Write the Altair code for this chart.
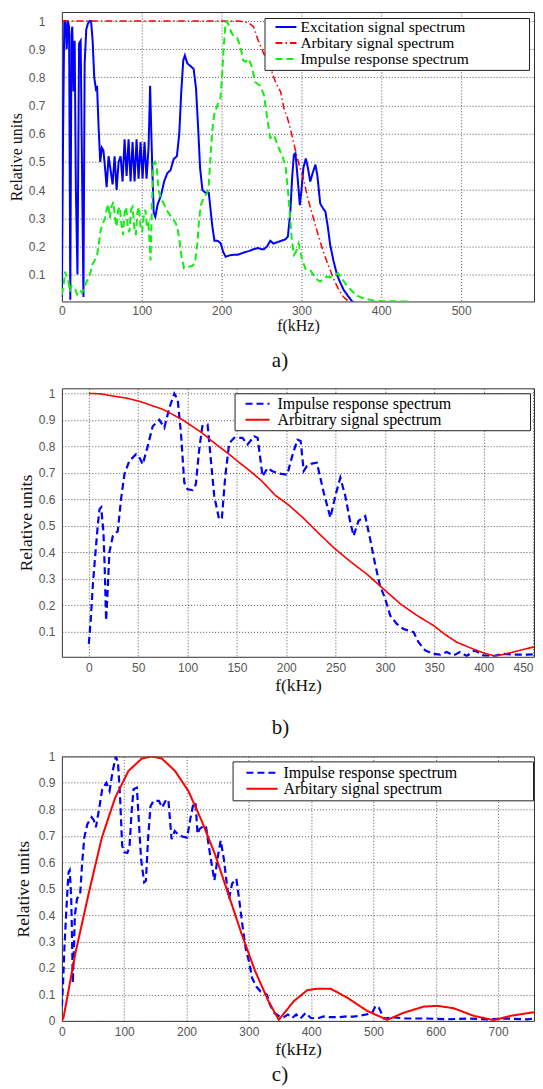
import altair as alt
import pandas as pd

# ---------------- data ----------------
A_EXCITATION = [
    (0, 0.02), (1.5, 0.6), (3, 1.0), (4.5, 1.0), (6, 0.9), (7.5, 1.0), (9, 0.98), (10.5, 0.01),
    (12, 0.95), (13, 0.98), (14.5, 0.75), (16, 0.93), (17.5, 0.4), (19.5, 0.1), (21.5, 0.92),
    (23.5, 0.93), (25.5, 0.4), (27, 0.02), (28.5, 0.85), (30.5, 0.97), (32.5, 0.99), (34.5, 1.0),
    (36.5, 1.0), (38.5, 0.93), (40.5, 0.8), (42.5, 0.76), (44, 0.77), (46, 0.62), (48, 0.5),
    (50, 0.55), (52, 0.54), (54, 0.48), (56, 0.41), (58.5, 0.52), (61, 0.47), (63.5, 0.42),
    (66, 0.52), (68.5, 0.4), (71, 0.5), (73.5, 0.52), (76, 0.43), (78.5, 0.58), (81, 0.45),
    (83.5, 0.58), (86, 0.43), (88.5, 0.57), (91, 0.43), (93.5, 0.58), (96, 0.44), (98.5, 0.57),
    (101, 0.44), (103.5, 0.57), (106, 0.44), (108.5, 0.55), (110.5, 0.77), (112, 0.6),
    (113.5, 0.45), (115, 0.32), (117, 0.305), (120, 0.35), (124, 0.38), (128, 0.43), (132, 0.46),
    (136, 0.47), (140, 0.51), (144, 0.52), (147, 0.6), (149.5, 0.75), (152, 0.86), (154, 0.878),
    (157, 0.85), (161, 0.84), (165, 0.83), (168, 0.76), (171, 0.6), (173, 0.48), (176, 0.40),
    (180, 0.39), (184, 0.39), (188, 0.28), (191, 0.22), (195, 0.22), (199, 0.21), (202, 0.18),
    (205, 0.163), (210, 0.168), (215, 0.17), (220, 0.17), (225, 0.175), (230, 0.18), (235, 0.184),
    (240, 0.19), (246, 0.194), (250, 0.19), (253, 0.19), (257, 0.2), (261, 0.22), (265, 0.21),
    (270, 0.215), (275, 0.22), (280, 0.225), (283, 0.235), (286, 0.32), (288.5, 0.45),
    (290.5, 0.525), (292.5, 0.53), (295, 0.45), (298, 0.346), (300, 0.4), (302.5, 0.48),
    (305.5, 0.512), (308, 0.48), (311, 0.43), (314, 0.46), (317.5, 0.49), (320, 0.45),
    (323.5, 0.352), (327, 0.335), (330, 0.323), (333, 0.27), (336, 0.205), (340, 0.15),
    (344.5, 0.1), (348, 0.075), (353, 0.045), (358, 0.025), (363, 0.006), (366, 0.0),
]
A_ARBITRARY = [
    (0, 1.0), (220, 1.0), (228, 0.998), (234, 0.993), (240, 0.98), (246, 0.93), (252, 0.89),
    (258, 0.85), (263, 0.82), (268, 0.78), (274, 0.748), (278, 0.69), (282, 0.66), (286, 0.62),
    (290, 0.57), (294, 0.524), (298, 0.48), (302.5, 0.44), (308, 0.37), (315, 0.30), (321, 0.24),
    (327.5, 0.18), (334, 0.13), (340, 0.086), (346, 0.05), (352.5, 0.021), (359, 0.004), (362, 0.0),
]
A_IMPULSE = [
    (0, 0.027), (2, 0.06), (4, 0.11), (6, 0.09), (8, 0.08), (10, 0.04), (12, 0.06), (14.5, 0.05),
    (17, 0.045), (19, 0.03), (21, 0.04), (23, 0.045), (25, 0.035), (27, 0.045), (29, 0.06),
    (31, 0.075), (33.5, 0.086), (36, 0.11), (38, 0.135), (41, 0.15), (44, 0.17), (46, 0.2),
    (48, 0.25), (50, 0.27), (52, 0.286), (54, 0.3), (56, 0.33), (58, 0.35), (60, 0.3), (62, 0.34),
    (64.5, 0.358), (66.5, 0.3), (68.5, 0.27), (70.5, 0.33), (72.5, 0.34), (74.5, 0.28),
    (76.5, 0.24), (78.5, 0.32), (80.5, 0.34), (82.5, 0.27), (84.5, 0.25), (86.5, 0.33),
    (88.5, 0.34), (90.5, 0.27), (92.5, 0.24), (94.5, 0.32), (96.5, 0.34), (98.5, 0.27),
    (100.5, 0.25), (102.5, 0.31), (104.5, 0.33), (106.5, 0.27), (108.5, 0.28), (110, 0.2),
    (111, 0.15), (112.5, 0.32), (114.5, 0.49), (116.5, 0.5), (118.5, 0.488), (121, 0.4),
    (124, 0.37), (127, 0.355), (131, 0.33), (134, 0.317), (138, 0.3), (141, 0.29), (144.5, 0.27),
    (147.5, 0.216), (150, 0.16), (153, 0.122), (156, 0.125), (159, 0.128), (163, 0.13),
    (166.5, 0.14), (169.5, 0.205), (172, 0.3), (174, 0.346), (178, 0.376), (182, 0.388),
    (184, 0.42), (186, 0.51), (188, 0.6), (190.5, 0.665), (194.5, 0.70), (198.5, 0.725),
    (200.5, 0.8), (202.5, 0.9), (205, 0.996), (207, 0.999), (210, 0.975), (213, 0.955),
    (216, 0.945), (219.5, 0.94), (223.5, 0.91), (227, 0.86), (230, 0.855), (234, 0.866),
    (238, 0.837), (242, 0.783), (248.5, 0.77), (253, 0.737), (257, 0.655), (261, 0.585),
    (265.5, 0.595), (271.5, 0.55), (276, 0.52), (280, 0.488), (284, 0.37), (288, 0.22),
    (290.5, 0.17), (293, 0.18), (296.5, 0.21), (300.5, 0.157), (305, 0.12), (311, 0.116),
    (317.5, 0.086), (323.5, 0.075), (328, 0.085), (332, 0.093), (336, 0.09), (340, 0.098),
    (346, 0.104), (351, 0.085), (356, 0.063), (362, 0.045), (368.5, 0.027), (375, 0.018),
    (381, 0.013), (388, 0.009), (394, 0.006), (410, 0.005), (435, 0.004),
]
BC_IMPULSE = [
    (0, 0.055), (2, 0.15), (4, 0.274), (6.7, 0.399), (9, 0.5), (10.8, 0.563), (12.5, 0.57),
    (14.8, 0.475), (16, 0.35), (17.5, 0.143), (19, 0.25), (20.8, 0.4), (24.3, 0.462),
    (29.3, 0.48), (32.6, 0.6), (36, 0.694), (41, 0.745), (47.8, 0.77), (51, 0.76), (54.6, 0.732),
    (59.6, 0.80), (64.7, 0.876), (71.4, 0.90), (76.5, 0.87), (81.5, 0.945), (86.6, 0.999),
    (90, 0.977), (93.3, 0.85), (96.7, 0.663), (100, 0.638), (105, 0.635), (108.4, 0.656),
    (111.8, 0.788), (115, 0.876), (120.3, 0.882), (123.6, 0.75), (127, 0.613), (132, 0.524),
    (134.8, 0.53), (138.2, 0.687), (142.2, 0.812), (147.3, 0.832), (155.7, 0.832),
    (160.8, 0.807), (167.6, 0.838), (171, 0.832), (176, 0.687), (181, 0.718), (186, 0.706),
    (193, 0.697), (201, 0.693), (206, 0.763), (211.3, 0.825), (214.6, 0.82), (217.7, 0.707),
    (221, 0.726), (226, 0.735), (231, 0.738), (238, 0.625), (244.7, 0.531), (249.7, 0.613),
    (254.8, 0.682), (259.8, 0.613), (264.9, 0.513), (268.2, 0.462), (273.2, 0.519), (280, 0.537),
    (285, 0.45), (290, 0.356), (295, 0.274), (300.3, 0.224), (305.4, 0.161), (312, 0.13),
    (318.8, 0.111), (329, 0.099), (334, 0.061), (340.8, 0.03), (349.2, 0.017), (356, 0.014),
    (362.6, 0.024), (369.4, 0.011), (376, 0.024), (382.8, 0.009), (391, 0.03), (399.7, 0.011),
    (409.8, 0.009), (420, 0.017), (430, 0.014), (443.6, 0.014), (457, 0.017), (468.6, 0.016),
    (490, 0.025), (498, 0.031), (503.4, 0.057), (508.7, 0.05), (516.8, 0.009), (532.8, 0.013),
    (554.2, 0.009), (586.2, 0.009), (618.3, 0.006), (650.4, 0.009), (682.5, 0.006),
    (714.5, 0.009), (746.6, 0.006), (772, 0.013),
]
B_ARBITRARY = [
    (0, 1.0), (12, 0.998), (24.3, 0.99), (38, 0.982), (51.2, 0.97), (63, 0.955), (74.8, 0.94),
    (85, 0.92), (95, 0.90), (105, 0.875), (115, 0.85), (128, 0.81), (142.2, 0.77), (152, 0.74),
    (162.4, 0.71), (175, 0.67), (189, 0.615), (202, 0.58), (216.3, 0.533), (232, 0.475),
    (248, 0.418), (265, 0.365), (281.7, 0.318), (294, 0.277), (315.5, 0.206), (332, 0.163),
    (349.2, 0.124), (361, 0.09), (372.8, 0.061), (383, 0.045), (393, 0.03), (402, 0.018),
    (411.5, 0.009), (420, 0.015), (430, 0.024), (443, 0.036), (457, 0.049),
]
C_ARBITRARY = [
    (0, 0.0), (2.7, 0.014), (21.4, 0.253), (42.7, 0.479), (64.1, 0.693), (85.5, 0.844),
    (106.8, 0.945), (128.2, 0.992), (144.2, 1.0), (160.3, 0.992), (181.6, 0.945), (203, 0.869),
    (224.4, 0.756), (245.7, 0.63), (267.1, 0.479), (288.5, 0.328), (309.8, 0.19), (331.2, 0.076),
    (348, 0.004), (372.3, 0.075), (393.6, 0.116), (409.7, 0.122), (431, 0.122), (457.8, 0.088),
    (489.9, 0.038), (521.9, 0.004), (548.6, 0.031), (580.7, 0.054), (602, 0.057), (628.8, 0.048),
    (660.9, 0.019), (693, 0.003), (719.7, 0.019), (751.8, 0.031), (772, 0.034),
]

A_NAMES = ["Excitation signal spectrum", "Arbitary signal spectrum", "Impulse response spectrum"]
B_NAMES = ["Impulse response spectrum", "Arbitrary signal spectrum"]
C_NAMES = ["Impulse response spectrum", "Arbitary signal spectrum"]

A_XTICKS = [0, 100, 200, 300, 400, 500]
B_XTICKS = [0, 50, 100, 150, 200, 250, 300, 350, 400, 450]
C_XTICKS = [0, 100, 200, 300, 400, 500, 600, 700]
AB_YTICKS = [0.1, 0.2, 0.3, 0.4, 0.5, 0.6, 0.7, 0.8, 0.9, 1.0]
C_YTICKS = [0.0, 0.1, 0.2, 0.3, 0.4, 0.5, 0.6, 0.7, 0.8, 0.9, 1.0]

PANEL_LABELS = ["a)", "b)", "c)"]
X_TITLE = "f(kHz)"
Y_TITLE = "Relative units"

# ---------------- styling ----------------
SERIF = "Liberation Serif, Times New Roman, serif"
SANS = "Liberation Sans, Arial, sans-serif"
NBSP = "\u00a0"
ZWSP = "\u200b"
BLUE, RED, GREEN = "#0000ff", "#ff0000", "#11ee11"
SOLID, DASHDOT, DASHED = [1, 0], [7, 3, 1.5, 3], [7, 4]
TICK_COLOR = "#555555"
GRID_COLOR = "#555555"


def to_frame(pairs, key, name):
    return pd.DataFrame({"f": [p[0] for p in pairs],
                         "v": [p[1] for p in pairs],
                         key: [name] * len(pairs)})


def panel(key, series, names, colors, dashes, widths, xdom, xticks, ydom, yticks,
          w, h, leg, axes, label, title_offset, title_dx):
    legend = alt.Legend(
        title=None, orient="none", legendX=leg["x"], legendY=leg["y"],
        fillColor="white", strokeColor="#222", padding=leg["pad"],
        symbolType=leg["path"], symbolSize=leg["size"], symbolStrokeWidth=2,
        symbolOffset=leg["soff"], labelOffset=leg["loff"], clipHeight=leg["clip"],
        labelFont=SERIF, labelFontSize=leg["fs"], labelColor="black",
        labelLimit=600, rowPadding=0,
        labelExpr="datum.label + '" + NBSP * leg["nb"] + ZWSP + "'",
    )
    x_axis = alt.Axis(
        values=xticks, title=X_TITLE, titleFont=SERIF, titleFontSize=axes["xtfs"],
        titleFontWeight="normal", titleColor="#111", titlePadding=axes["xtp"],
        labelFont=SANS, labelFontSize=12, labelColor=TICK_COLOR, labelPadding=axes["xlp"],
        labelFlush=axes["flush"], labelOverlap=False, ticks=False, domain=False,
        grid=True, gridColor=GRID_COLOR, gridDash=[1, 2], gridWidth=1,
    )
    y_axis = alt.Axis(
        values=yticks, format=".1~f", title=Y_TITLE, titleFont=SERIF,
        titleFontSize=axes["ytfs"], titleFontWeight="normal", titleColor="#111",
        titlePadding=axes["ytp"], labelFont=SANS, labelFontSize=12, labelColor=TICK_COLOR,
        labelPadding=axes["ylp"], labelFlush=False, labelOverlap=False, ticks=False,
        domain=False, grid=True, gridColor=GRID_COLOR, gridDash=[1, 2], gridWidth=1,
    )
    cscale = alt.Scale(domain=names, range=colors)
    dscale = alt.Scale(domain=names, range=dashes)
    layers = []
    for pairs, name, sw in zip(series, names, widths):
        layers.append(
            alt.Chart(to_frame(pairs, key, name))
            .mark_line(strokeWidth=sw, clip=True)
            .encode(
                x=alt.X("f:Q", scale=alt.Scale(domain=xdom, nice=False, zero=False), axis=x_axis),
                y=alt.Y("v:Q", scale=alt.Scale(domain=ydom, nice=False, zero=False), axis=y_axis),
                color=alt.Color(key + ":N", scale=cscale, legend=legend),
                strokeDash=alt.StrokeDash(key + ":N", scale=dscale, legend=legend),
            )
        )
    return alt.layer(*layers).properties(
        width=w, height=h,
        title=alt.TitleParams(text=label, orient="bottom", anchor="middle", font=SERIF,
                              fontSize=21, fontWeight="normal", color="#111",
                              offset=title_offset, dx=title_dx),
    )


# all plot areas share the same left edge (x = 61 px on the page), right edges at 534
pa = panel(
    "series_a", [A_EXCITATION, A_ARBITRARY, A_IMPULSE], A_NAMES, [BLUE, RED, GREEN],
    [SOLID, DASHDOT, DASHED], [2, 1.5, 2],
    [0, 591.25], A_XTICKS, [0.0043, 1.032], AB_YTICKS, 473, 290,
    dict(x=203, y=6, pad=2, path="M-2,0H2", size=110, soff=11.75, loff=6.75,
         fs=15.5, clip=14, nb=15),
    dict(xtfs=16, xtp=1, xlp=4, ytfs=16, ytp=3.3, ylp=17, flush=False),
    PANEL_LABELS[0], 17, -18,
)
pb = panel(
    "series_b", [BC_IMPULSE, B_ARBITRARY], B_NAMES, [BLUE, RED], [DASHED, SOLID], [2.2, 1.6],
    [-27.3, 451], B_XTICKS, [0.006, 1.019], AB_YTICKS, 473, 269,
    dict(x=173, y=5, pad=2.5, path="M-2,0H2", size=144, soff=12.5, loff=12,
         fs=16, clip=16, nb=19),
    dict(xtfs=17.5, xtp=2.4, xlp=6, ytfs=17.5, ytp=2.6, ylp=7, flush=5),
    PANEL_LABELS[1], 23.3, -17.5,
)
pc = panel(
    "series_c", [BC_IMPULSE, C_ARBITRARY], C_NAMES, [BLUE, RED], [DASHED, SOLID], [2.2, 2],
    [0, 757.6], C_XTICKS, [0, 1], C_YTICKS, 473, 265,
    dict(x=171, y=5, pad=3.5, path="M-2.6,0H2.6", size=144, soff=18, loff=13.5,
         fs=16, clip=16, nb=18),
    dict(xtfs=17.5, xtp=2.9, xlp=6, ytfs=17.5, ytp=5.6, ylp=7, flush=False),
    PANEL_LABELS[2], 6.3, -18,
)

RESOLVE = dict(x="independent", y="independent", color="independent", strokeDash="independent")

top = alt.vconcat(pa, pb, spacing=14).resolve_scale(**RESOLVE).resolve_legend(
    color="independent", strokeDash="independent")
chart = (
    alt.vconcat(top, pc, spacing=10.8)
    .resolve_scale(**RESOLVE)
    .resolve_legend(color="independent", strokeDash="independent")
    .properties(padding={"left": 0, "top": 2, "right": 0, "bottom": 0})
    .configure(background="white")
    .configure_axis(titleFont=SERIF, labelFont=SANS, titleFontWeight="normal")
    .configure_view(stroke="#333", strokeWidth=1)
)

chart.save("out.html", embed_options={"renderer": "svg", "actions": False})
